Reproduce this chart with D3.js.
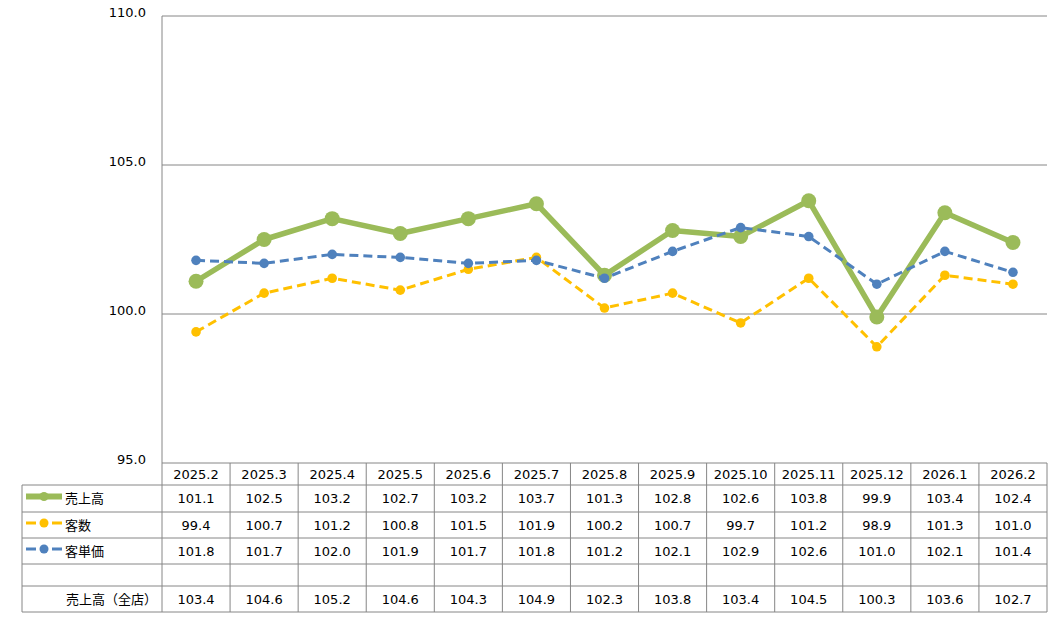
<!DOCTYPE html>
<html>
<head>
<meta charset="utf-8">
<script src="https://cdn.jsdelivr.net/npm/d3@7"></script>
<style>
body { margin: 0; background: #fff; }
text { font-family: "DejaVu Sans", Verdana, "Noto Sans CJK JP", sans-serif; font-size: 13px; fill: #000; }
.jp { font-family: "Noto Sans CJK JP", sans-serif; font-size: 13px; }
</style>
</head>
<body>
<div id="chart"></div>
<script>
var months = ["2025.2","2025.3","2025.4","2025.5","2025.6","2025.7","2025.8","2025.9","2025.10","2025.11","2025.12","2026.1","2026.2"];
var sales = [101.1,102.5,103.2,102.7,103.2,103.7,101.3,102.8,102.6,103.8,99.9,103.4,102.4];
var customers = [99.4,100.7,101.2,100.8,101.5,101.9,100.2,100.7,99.7,101.2,98.9,101.3,101.0];
var unitPrice = [101.8,101.7,102.0,101.9,101.7,101.8,101.2,102.1,102.9,102.6,101.0,102.1,101.4];
var salesAll = [103.4,104.6,105.2,104.6,104.3,104.9,102.3,103.8,103.4,104.5,100.3,103.6,102.7];
var yTicks = [95, 100, 105, 110];

var W = 1063, H = 619;
var plotLeft = 162, plotRight = 1047, plotTop = 16, plotBottom = 463;
var tableLeft = 22;
var rowY = [463, 485, 512, 538, 564, 586, 612]; // table row edges

var svg = d3.select("#chart").append("svg")
	.attr("width", W)
	.attr("height", H);

var x = d3.scaleBand()
	.domain(months)
	.range([plotLeft, plotRight]);

var y = d3.scaleLinear()
	.domain([95, 110])
	.range([plotBottom, plotTop]);

var gridColor = "#868686";

// horizontal grid lines
svg.selectAll(".grid")
	.data(yTicks)
	.enter().append("line")
	.attr("x1", plotLeft)
	.attr("x2", plotRight)
	.attr("y1", function(d) { return y(d); })
	.attr("y2", function(d) { return y(d); })
	.style("stroke", gridColor)
	.style("stroke-width", 1);

// left axis line
svg.append("line")
	.attr("x1", plotLeft).attr("x2", plotLeft)
	.attr("y1", plotTop).attr("y2", rowY[6])
	.style("stroke", gridColor);

// y labels
svg.selectAll(".ylab")
	.data(yTicks)
	.enter().append("text")
	.attr("x", 146)
	.attr("y", function(d) { return y(d); })
	.attr("dy", "0.1em")
	.attr("text-anchor", "end")
	.text(function(d) { return d.toFixed(1); });

// table lines
for (var r = 1; r < rowY.length; r++) {
	svg.append("line")
		.attr("x1", tableLeft).attr("x2", plotRight)
		.attr("y1", rowY[r]).attr("y2", rowY[r])
		.style("stroke", gridColor);
}
svg.append("line")
	.attr("x1", tableLeft).attr("x2", tableLeft)
	.attr("y1", rowY[1]).attr("y2", rowY[6])
	.style("stroke", gridColor);
months.forEach(function(m) {
	var xe = x(m) + x.bandwidth();
	svg.append("line")
		.attr("x1", xe).attr("x2", xe)
		.attr("y1", rowY[0]).attr("y2", rowY[6])
		.style("stroke", gridColor);
});

// header row
svg.selectAll(".mlab")
	.data(months)
	.enter().append("text")
	.attr("x", function(d) { return x(d) + x.bandwidth() / 2; })
	.attr("y", (rowY[0] + rowY[1]) / 2)
	.attr("dy", "0.35em")
	.attr("text-anchor", "middle")
	.text(function(d) { return d; });

var series = [
	{ name: "売上高", values: sales, color: "#9BBB59", width: 5.5, r: 7.5, dash: null, row: 1 },
	{ name: "客数", values: customers, color: "#FFC000", width: 3, r: 4.8, dash: "9,5", row: 2 },
	{ name: "客単価", values: unitPrice, color: "#4F81BD", width: 3, r: 4.8, dash: "9,5", row: 3 }
];

var line = d3.line()
	.x(function(d, i) { return x(months[i]) + x.bandwidth() / 2; })
	.y(function(d) { return y(d); });

series.forEach(function(s) {
	svg.append("path")
		.datum(s.values)
		.attr("d", line)
		.style("fill", "none")
		.style("stroke", s.color)
		.style("stroke-width", s.width)
		.style("stroke-dasharray", s.dash)
		.style("stroke-linejoin", "round");
	svg.selectAll(null)
		.data(s.values)
		.enter().append("circle")
		.attr("cx", function(d, i) { return x(months[i]) + x.bandwidth() / 2; })
		.attr("cy", function(d) { return y(d); })
		.attr("r", s.r)
		.style("fill", s.color);
});

// table data rows
function valueRow(values, rowIdx) {
	var cy = (rowY[rowIdx] + rowY[rowIdx + 1]) / 2;
	svg.selectAll(null)
		.data(values)
		.enter().append("text")
		.attr("x", function(d, i) { return x(months[i]) + x.bandwidth() / 2; })
		.attr("y", cy)
		.attr("dy", "0.35em")
		.attr("text-anchor", "middle")
		.text(function(d) { return d.toFixed(1); });
}

series.forEach(function(s) {
	var cy = (rowY[s.row] + rowY[s.row + 1]) / 2;
	// legend key
	svg.append("line")
		.attr("x1", 26).attr("x2", 62)
		.attr("y1", cy - 2).attr("y2", cy - 2)
		.style("stroke", s.color)
		.style("stroke-width", s.row == 1 ? 6 : 3)
		.style("stroke-dasharray", s.dash ? "10,16" : null);
	svg.append("circle")
		.attr("cx", 44).attr("cy", cy - 2)
		.attr("r", 4.5)
		.style("fill", s.color);
	svg.append("text")
		.attr("class", "jp")
		.attr("x", 65)
		.attr("y", cy)
		.attr("dy", "0.35em")
		.text(s.name);
	valueRow(s.values, s.row);
});

svg.append("text")
	.attr("class", "jp")
	.attr("x", 66)
	.attr("y", (rowY[5] + rowY[6]) / 2)
	.attr("dy", "0.35em")
	.text("売上高（全店）");
valueRow(salesAll, 5);
</script>
</body>
</html>
